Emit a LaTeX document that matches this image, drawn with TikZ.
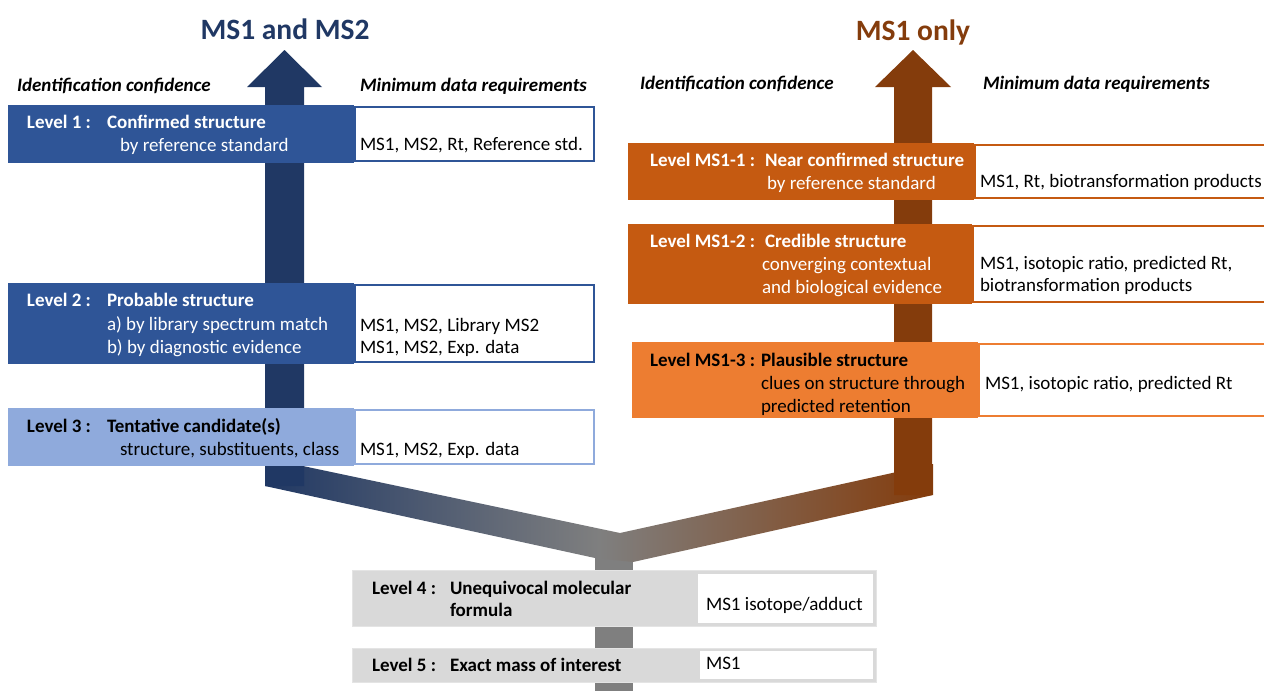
\documentclass[tikz,border=0pt]{standalone}
\usepackage{fontspec}
\setmainfont{Carlito}
\definecolor{navyarrow}{HTML}{203864}
\definecolor{blueband}{HTML}{2F5597}
\definecolor{lightblue}{HTML}{8FAADC}
\definecolor{rust}{HTML}{C55A11}
\definecolor{orangeband}{HTML}{ED7D31}
\definecolor{brownarrow}{HTML}{843C0C}
\definecolor{stemgray}{HTML}{7F7F7F}
\definecolor{panelgray}{HTML}{D9D9D9}
\definecolor{paneledge}{HTML}{E4E4E4}
\begin{document}
\begin{tikzpicture}[x=1pt,y=-1pt,
  panel/.style={anchor=north west, inner sep=0pt, outer sep=0pt, draw=none},
  reqbox/.style={anchor=north west, inner sep=0pt, outer sep=0pt, fill=white, line width=1.8pt},
  txt/.style={anchor=base west, inner sep=0pt, outer sep=0pt, font=\fontsize{19}{23}\selectfont},
  btxt/.style={txt, font=\fontsize{19}{23}\selectfont\bfseries},
  head/.style={txt, font=\fontsize{19}{23}\selectfont\bfseries\itshape},
  title/.style={anchor=base, inner sep=0pt, font=\fontsize{29.5}{34}\selectfont\bfseries}]
\useasboundingbox (0,0) rectangle (1264,691);

% grey stem below the junction
\fill[stemgray] (595,556) rectangle (633,691);
% converging band: two branches joining above the stem
\shade[left color=navyarrow, right color=brownarrow, middle color=stemgray]
  (265,458) -- (620,533) -- (933,464) -- (933,495) -- (633,562)
  -- (595,558) -- (265,486) -- cycle;

% MS1 and MS2 arrow
\fill[navyarrow] (265,486) -- (265,87) -- (247,87) -- (284.5,50) -- (322,87)
  -- (304,87) -- (304,486) -- cycle;
% MS1 only arrow
\fill[brownarrow] (894,495) -- (894,87) -- (875,87) -- (913,50) -- (951,87)
  -- (932,87) -- (932,495) -- cycle;

% titles and column headings
\node[title, text=navyarrow] (t1) at (285,39) {MS1 and MS2};
\node[title, text=brownarrow] (t2) at (913,40) {MS1 only};
\node[head] (h1) at (17,91) {Identification confidence};
\node[head] (h2) at (360,91) {Minimum data requirements};
\node[head] (h3) at (640,89) {Identification confidence};
\node[head] (h4) at (983,89) {Minimum data requirements};

% ---- MS1 and MS2 levels ----
\node[panel, fill=blueband, minimum width=346pt, minimum height=58pt] (l1c) at (8,105) {};
\node[reqbox, draw=blueband, minimum width=239pt, minimum height=54pt] (l1w) at (355,107) {};
\node[btxt, text=white] (l1a) at (27,128) {Level 1 :};
\node[btxt, text=white] (l1b) at (107,128) {Confirmed structure};
\node[txt, text=white] (l1d) at (120,151) {by reference standard};
\node[txt] (l1r) at (360,150) {MS1, MS2, Rt, Reference std.};

\node[panel, fill=blueband, minimum width=346pt, minimum height=81pt] (l2c) at (8,283) {};
\node[reqbox, draw=blueband, minimum width=239pt, minimum height=77pt] (l2w) at (355,285) {};
\node[btxt, text=white] (l2a) at (27,306) {Level 2 :};
\node[btxt, text=white] (l2b) at (107,306) {Probable structure};
\node[txt, text=white] (l2d) at (107,330) {a) by library spectrum match};
\node[txt, text=white] (l2e) at (107,353) {b) by diagnostic evidence};
\node[txt] (l2r) at (360,331) {MS1, MS2, Library MS2};
\node[txt] (l2s) at (360,353) {MS1, MS2, Exp. data};

\node[panel, fill=lightblue, minimum width=346pt, minimum height=58pt] (l3c) at (8,408) {};
\node[reqbox, draw=lightblue, minimum width=239pt, minimum height=54pt] (l3w) at (355,410) {};
\node[btxt] (l3a) at (27,432) {Level 3 :};
\node[btxt] (l3b) at (107,432) {Tentative candidate(s)};
\node[txt] (l3d) at (120,455) {structure, substituents, class};
\node[txt] (l3r) at (360,455) {MS1, MS2, Exp. data};

% ---- MS1 only levels ----
\node[panel, fill=rust, minimum width=346pt, minimum height=57pt] (m1c) at (628,143) {};
\node[reqbox, draw=rust, minimum width=300pt, minimum height=53pt] (m1w) at (975,145) {};
\node[btxt, text=white] (m1a) at (650,166) {Level MS1-1 :};
\node[btxt, text=white] (m1b) at (765,166) {Near confirmed structure};
\node[txt, text=white] (m1d) at (767,189) {by reference standard};
\node[txt] (m1r) at (980,187) {MS1, Rt, biotransformation products};

\node[panel, fill=rust, minimum width=344pt, minimum height=80pt] (m2c) at (628,224) {};
\node[reqbox, draw=rust, minimum width=300pt, minimum height=76pt] (m2w) at (973,226) {};
\node[btxt, text=white] (m2a) at (650,247) {Level MS1-2 :};
\node[btxt, text=white] (m2b) at (765,247) {Credible structure};
\node[txt, text=white] (m2d) at (762,270) {converging contextual};
\node[txt, text=white] (m2e) at (762,293) {and biological evidence};
\node[txt] (m2r) at (980,269) {MS1, isotopic ratio, predicted Rt,};
\node[txt] (m2s) at (980,291) {biotransformation products};

\node[panel, fill=orangeband, minimum width=346pt, minimum height=76pt] (m3c) at (632,342) {};
\node[reqbox, draw=orangeband, minimum width=300pt, minimum height=72pt] (m3w) at (979,344) {};
\node[btxt] (m3a) at (650,366) {Level MS1-3 :};
\node[btxt] (m3b) at (761,366) {Plausible structure};
\node[txt] (m3d) at (761,389) {clues on structure through};
\node[txt] (m3e) at (761,412) {predicted retention};
\node[txt] (m3r) at (985,389) {MS1, isotopic ratio, predicted Rt};

% ---- shared levels ----
\node[panel, fill=panelgray, draw=paneledge, line width=1pt, minimum width=524pt, minimum height=56pt] (l4c) at (352,570) {};
\node[panel, fill=white, minimum width=175pt, minimum height=49pt] (l4w) at (698,574) {};
\node[btxt] (l4a) at (372,594) {Level 4 :};
\node[btxt] (l4b) at (450,594) {Unequivocal molecular};
\node[btxt] (l4d) at (450,616) {formula};
\node[txt] (l4r) at (706,610) {MS1 isotope/adduct};

\node[panel, fill=panelgray, draw=paneledge, line width=1pt, minimum width=524pt, minimum height=34pt] (l5c) at (352,648) {};
\node[panel, fill=white, minimum width=173pt, minimum height=28pt] (l5w) at (700,651) {};
\node[btxt] (l5a) at (372,671) {Level 5 :};
\node[btxt] (l5b) at (450,671) {Exact mass of interest};
\node[txt] (l5r) at (706,669) {MS1};
\end{tikzpicture}
\end{document}
